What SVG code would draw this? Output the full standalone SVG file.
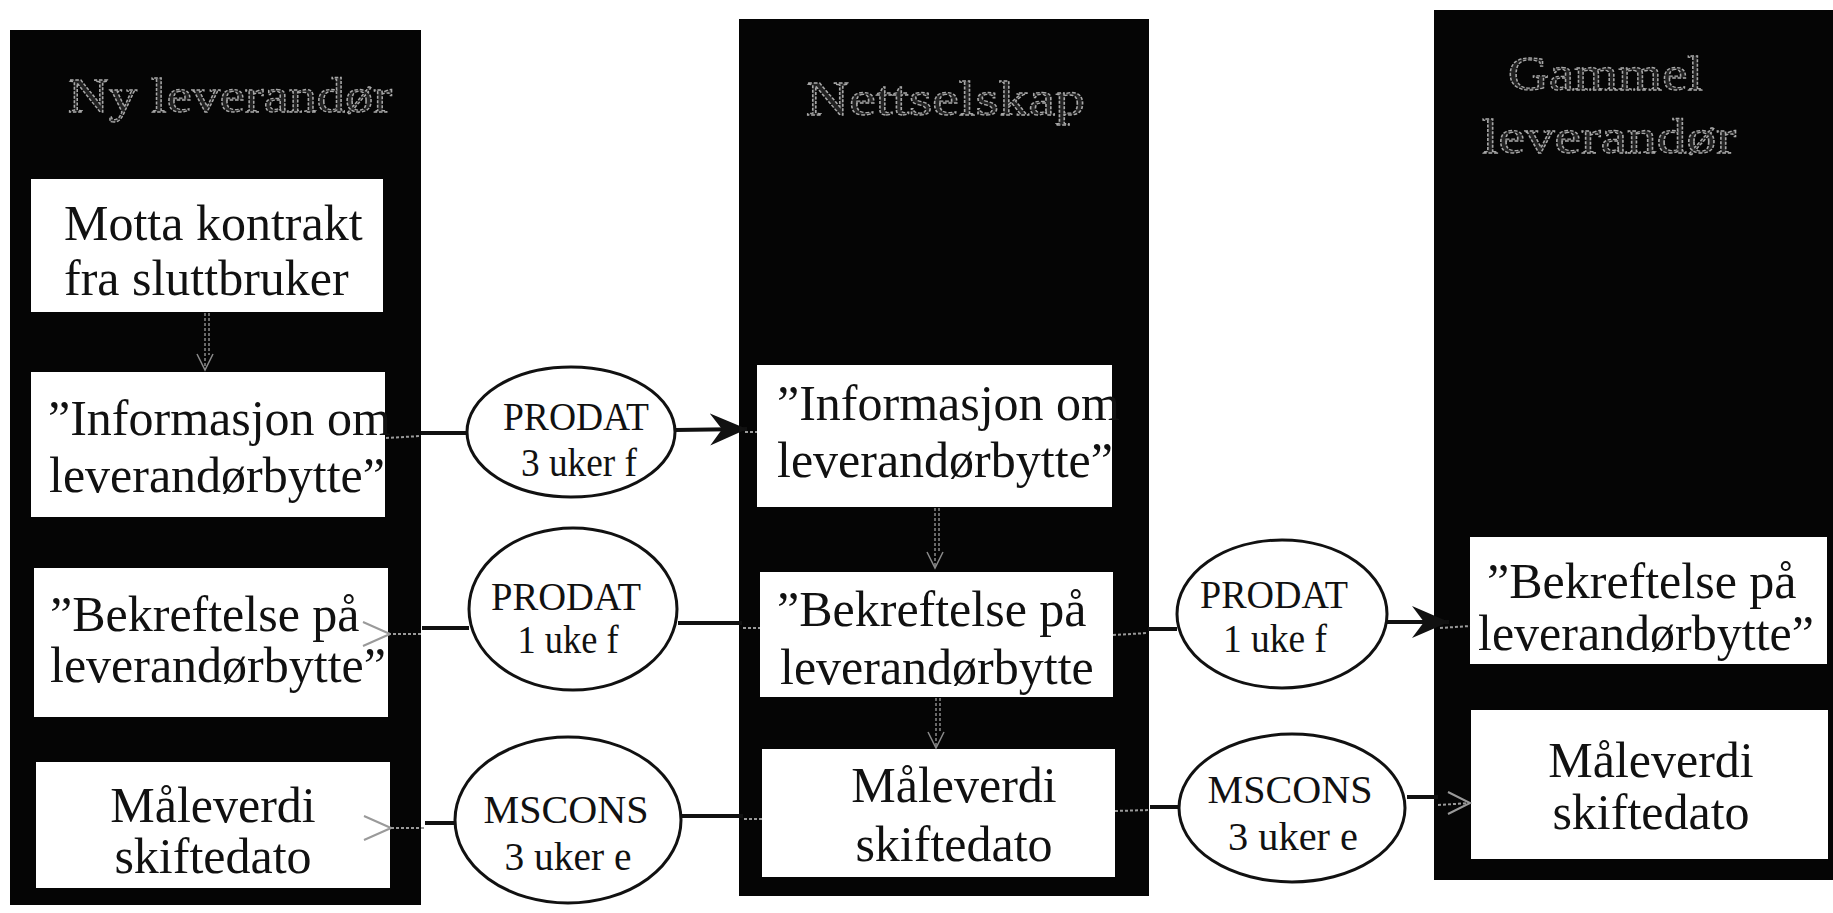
<svg xmlns="http://www.w3.org/2000/svg" width="1833" height="913" viewBox="0 0 1833 913">
<defs>
<style>
.col{fill:#050505}
.box{fill:#ffffff}
.t{font-family:"Liberation Serif","Times New Roman",serif;font-size:50px;fill:#111}
.hd{font-family:"Liberation Serif","Times New Roman",serif;font-size:48px;fill:#222;stroke:#a8a8a8;stroke-width:1.3;stroke-dasharray:3 1.5}
.et{font-family:"Liberation Serif","Times New Roman",serif;font-size:40px;fill:#111;text-anchor:middle}
.m{text-anchor:middle}
.ell{fill:#ffffff;stroke:#111;stroke-width:3}
.ln{stroke:#111;stroke-width:4;fill:none}
.gl{stroke:#9a9a9a;stroke-width:2;fill:none;stroke-dasharray:3 2}
.gv{stroke:#8a8a8a;stroke-width:1.5;fill:none;stroke-dasharray:3 2}
</style>
<marker id="ah" markerWidth="38" markerHeight="34" refX="37" refY="17" orient="auto" markerUnits="userSpaceOnUse">
<path d="M0,1 L37,17 L0,33 L12,17 Z" fill="#111"/>
</marker>
<marker id="gh" markerWidth="30" markerHeight="28" refX="1" refY="14" orient="auto" markerUnits="userSpaceOnUse">
<path d="M28,2 L1,14 L28,26" fill="none" stroke="#9a9a9a" stroke-width="2"/>
</marker>
<marker id="vh" markerWidth="20" markerHeight="20" refX="10" refY="18" orient="0" markerUnits="userSpaceOnUse">
<path d="M2,2 L10,18 L18,2" fill="none" stroke="#8a8a8a" stroke-width="1.5"/>
</marker>
</defs>

<g id="col-ny-leverandor">
<rect class="col" x="10" y="30" width="411" height="875"/>
<text class="hd" x="68" y="112" textLength="324" lengthAdjust="spacingAndGlyphs">Ny leverandør</text>
</g>
<g id="col-nettselskap">
<rect class="col" x="739" y="19" width="410" height="877"/>
<text class="hd" x="806" y="115" textLength="279" lengthAdjust="spacingAndGlyphs">Nettselskap</text>
</g>
<g id="col-gammel-leverandor">
<rect class="col" x="1434" y="10" width="399" height="870"/>
<text class="hd" x="1508" y="90" textLength="195" lengthAdjust="spacingAndGlyphs">Gammel</text>
<text class="hd" x="1482" y="153" textLength="254" lengthAdjust="spacingAndGlyphs">leverandør</text>
</g>

<g id="n1-motta">
<rect class="box" x="31" y="179" width="352" height="133"/>
<text class="t" x="64" y="240">Motta kontrakt</text>
<text class="t" x="64" y="295">fra sluttbruker</text>
</g>
<g id="n1-info">
<rect class="box" x="31" y="372" width="354" height="145"/>
<text class="t" x="48" y="435">”Informasjon om</text>
<text class="t" x="49" y="492">leverandørbytte”</text>
</g>
<g id="n1-bekr">
<rect class="box" x="34" y="568" width="354" height="149"/>
<text class="t" x="50" y="631">”Bekreftelse på</text>
<text class="t" x="50" y="682">leverandørbytte”</text>
</g>
<g id="n1-maal">
<rect class="box" x="36" y="762" width="354" height="126"/>
<text class="t m" x="213" y="822">Måleverdi</text>
<text class="t m" x="213" y="873">skiftedato</text>
</g>

<g id="n2-info">
<rect class="box" x="757" y="365" width="355" height="142"/>
<text class="t" x="777" y="420">”Informasjon om</text>
<text class="t" x="777" y="477">leverandørbytte”</text>
</g>
<g id="n2-bekr">
<rect class="box" x="760" y="572" width="353" height="125"/>
<text class="t" x="777" y="626">”Bekreftelse på</text>
<text class="t" x="780" y="684">leverandørbytte</text>
</g>
<g id="n2-maal">
<rect class="box" x="762" y="749" width="353" height="128"/>
<text class="t m" x="954" y="802">Måleverdi</text>
<text class="t m" x="954" y="861">skiftedato</text>
</g>

<g id="n3-bekr">
<rect class="box" x="1470" y="537" width="357" height="127"/>
<text class="t" x="1487" y="598">”Bekreftelse på</text>
<text class="t" x="1478" y="650">leverandørbytte”</text>
</g>
<g id="n3-maal">
<rect class="box" x="1471" y="710" width="357" height="149"/>
<text class="t m" x="1651" y="777">Måleverdi</text>
<text class="t m" x="1651" y="829">skiftedato</text>
</g>

<g id="connectors">
<line class="gv" x1="205" y1="313" x2="205" y2="370" marker-end="url(#vh)"/>
<line class="gv" x1="209" y1="313" x2="209" y2="355"/>
<line class="gv" x1="935" y1="508" x2="935" y2="568" marker-end="url(#vh)"/>
<line class="gv" x1="939" y1="508" x2="939" y2="552"/>
<line class="gv" x1="936" y1="698" x2="936" y2="748" marker-end="url(#vh)"/>
<line class="gv" x1="940" y1="698" x2="940" y2="732"/>

<line class="gl" x1="386" y1="438" x2="421" y2="436"/>
<line class="ln" x1="421" y1="433" x2="467" y2="433"/>
<line class="ln" x1="675" y1="430" x2="747" y2="429" marker-end="url(#ah)"/>
<line class="gl" x1="745" y1="432" x2="757" y2="432"/>

<line class="gl" x1="743" y1="628" x2="760" y2="628"/>
<line class="ln" x1="742" y1="623" x2="678" y2="623"/>
<line class="ln" x1="469" y1="628" x2="422" y2="628"/>
<line class="gl" x1="421" y1="634" x2="390" y2="634" marker-end="url(#gh)"/>

<line class="gl" x1="1113" y1="635" x2="1148" y2="633"/>
<line class="ln" x1="1148" y1="629" x2="1177" y2="629"/>
<line class="ln" x1="1387" y1="622" x2="1449" y2="622" marker-end="url(#ah)"/>
<line class="gl" x1="1440" y1="628" x2="1470" y2="626"/>

<line class="gl" x1="744" y1="819" x2="762" y2="819"/>
<line class="ln" x1="743" y1="816" x2="682" y2="816"/>
<line class="ln" x1="455" y1="823" x2="425" y2="823"/>
<line class="gl" x1="424" y1="828" x2="391" y2="828" marker-end="url(#gh)"/>

<line class="gl" x1="1115" y1="811" x2="1150" y2="810"/>
<line class="ln" x1="1150" y1="807" x2="1180" y2="807"/>
<line class="ln" x1="1407" y1="797" x2="1438" y2="797"/>
<line class="gl" x1="1438" y1="805" x2="1470" y2="803"/>
<path d="M1448,792 L1470,803 L1448,814" fill="none" stroke="#9a9a9a" stroke-width="2"/>
</g>

<g id="e1-prodat">
<ellipse class="ell" cx="571" cy="432" rx="104" ry="65"/>
<text class="et" x="576" y="430" textLength="146" lengthAdjust="spacingAndGlyphs">PRODAT</text>
<text class="et" x="579" y="476" textLength="116" lengthAdjust="spacingAndGlyphs">3 uker f</text>
</g>
<g id="e2-prodat">
<ellipse class="ell" cx="573" cy="609" rx="104" ry="81"/>
<text class="et" x="566" y="610" textLength="150" lengthAdjust="spacingAndGlyphs">PRODAT</text>
<text class="et" x="568" y="653" textLength="101" lengthAdjust="spacingAndGlyphs">1 uke f</text>
</g>
<g id="e3-mscons">
<ellipse class="ell" cx="568" cy="820" rx="113" ry="83"/>
<text class="et" x="566" y="823" textLength="165" lengthAdjust="spacingAndGlyphs">MSCONS</text>
<text class="et" x="568" y="870" textLength="127" lengthAdjust="spacingAndGlyphs">3 uker e</text>
</g>
<g id="e4-prodat">
<ellipse class="ell" cx="1282" cy="614" rx="105" ry="74"/>
<text class="et" x="1274" y="608" textLength="148" lengthAdjust="spacingAndGlyphs">PRODAT</text>
<text class="et" x="1275" y="652" textLength="104" lengthAdjust="spacingAndGlyphs">1 uke f</text>
</g>
<g id="e5-mscons">
<ellipse class="ell" cx="1292" cy="808" rx="113" ry="74"/>
<text class="et" x="1290" y="803" textLength="165" lengthAdjust="spacingAndGlyphs">MSCONS</text>
<text class="et" x="1293" y="850" textLength="130" lengthAdjust="spacingAndGlyphs">3 uker e</text>
</g>
</svg>
